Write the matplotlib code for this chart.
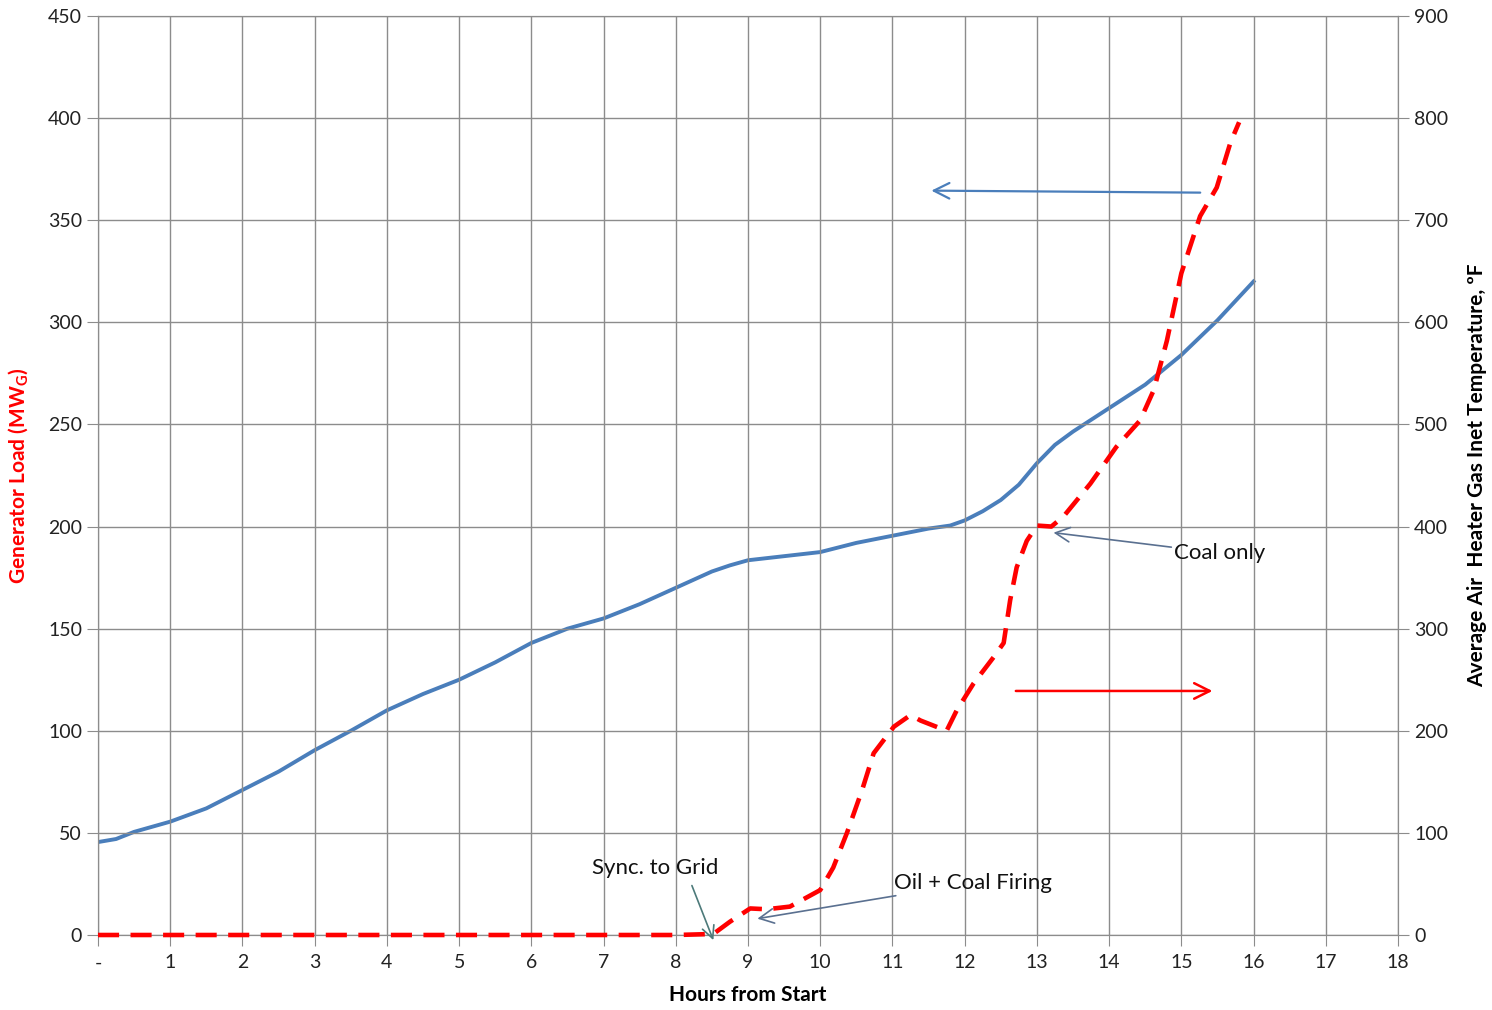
import matplotlib
matplotlib.use("Agg")
import matplotlib.pyplot as plt
import numpy as np

plt.rcParams['font.family'] = ['Lato', 'DejaVu Sans']

# Average air heater gas inlet temperature (deg F, right axis)
temp_hours = [0, 0.25, 0.5, 1, 1.5, 2, 2.5, 3, 3.5, 4, 4.5, 5, 5.5, 6, 6.5, 7, 7.5,
              8, 8.5, 8.75, 9, 9.5, 10, 10.5, 11, 11.5, 11.8, 12, 12.25, 12.5, 12.75,
              13, 13.25, 13.5, 14, 14.5, 15, 15.5, 16]
temp_f = [91, 94, 101, 111, 124, 142, 160, 181, 200, 220, 236, 250, 267, 286, 300, 310,
          324, 340, 356, 362, 367, 371, 375, 384, 391, 398, 401, 406, 415, 426, 441,
          462, 480, 493, 516, 539, 568, 602, 640]

# Generator load (MW, left axis)
load_hours = [0, 1, 2, 3, 4, 5, 6, 7, 8, 8.52, 8.75, 9.03, 9.26, 9.58, 10.0, 10.18,
              10.37, 10.58, 10.74, 11.02, 11.25, 11.39, 11.75, 11.89, 12.12, 12.4,
              12.54, 12.63, 12.72, 12.86, 13.0, 13.2, 13.37, 13.74, 14.1, 14.43,
              14.62, 14.8, 15.0, 15.26, 15.49, 15.68, 15.8]
load_mw = [0, 0, 0, 0, 0, 0, 0, 0, 0, 0.5, 6.5, 13, 12.6, 13.9, 22, 33,
           50, 71, 89, 102, 107.7, 105, 100, 110, 123, 136,
           143, 164, 180, 193, 200.5, 200, 205, 221, 239, 252,
           267, 291, 324, 352, 366, 388, 398]

x_ticks = list(range(0, 19))
x_labels = ['-'] + [str(i) for i in range(1, 19)]

grid_c = '#8c8c8c'
blue = '#4a7ebb'
red = '#ff0000'

fig = plt.figure(figsize=(14.92, 10.10), dpi=100)
ax = fig.add_axes([98 / 1492, 75 / 1010, 1300 / 1492, 919 / 1010])
ax2 = ax.twinx()

# Blue temperature line on the right axis
ax2.plot(temp_hours, temp_f, color=blue, lw=2.8, zorder=3,
         solid_joinstyle='round')
ax2.set_ylim(0, 900)
ax2.set_yticks(np.arange(0, 901, 100))

# Red dashed load line on the left axis, drawn above the twin axes
ax.set_zorder(ax2.get_zorder() + 1)
ax.patch.set_visible(False)
ax.plot(load_hours, load_mw, color=red, lw=3.3, dashes=(4.6, 2.5), zorder=4,
        clip_on=False)
ax.set_xlim(0, 18)
ax.set_ylim(0, 450)
ax.set_yticks(np.arange(0, 451, 50))
ax.set_xticks(x_ticks)
ax.set_xticklabels(x_labels)
ax.grid(True, color=grid_c, lw=1)
ax.set_axisbelow(True)

for a in (ax, ax2):
    for s in a.spines.values():
        s.set_color(grid_c)
    a.tick_params(colors=grid_c, labelcolor='#222222', labelsize=14, length=8)
ax.tick_params(axis='x', pad=6)

ax.set_xlabel('Hours from Start', fontsize=15, fontweight='bold', labelpad=10)
ax.set_ylabel('Generator Load (MW$_\\mathregular{G}$)', fontsize=15,
              fontweight='bold', color=red, labelpad=12)
ax2.set_ylabel('Average Air  Heater Gas Inet Temperature, ºF', fontsize=15,
               fontweight='bold', labelpad=14)

# Axis indicator arrows
ax.annotate('', xy=(11.5, 364.5), xytext=(15.3, 363.5),
            arrowprops=dict(arrowstyle='->', color=blue, lw=1.6,
                            mutation_scale=28), zorder=5)
ax.annotate('', xy=(15.47, 119.5), xytext=(12.67, 119.5),
            arrowprops=dict(arrowstyle='->', color=red, lw=1.8,
                            mutation_scale=28), zorder=5)

# Text annotations
note_c = '#5a7090'
ax.annotate('Coal only', xy=(13.23, 197), xytext=(14.9, 187), fontsize=16,
            va='center', ha='left', color='#111111',
            arrowprops=dict(arrowstyle='->', color=note_c, lw=1.2,
                            mutation_scale=26, shrinkA=0, shrinkB=0), zorder=6)
ax.annotate('Oil + Coal Firing', xy=(9.13, 8), xytext=(11.02, 25.5), fontsize=16,
            va='center', ha='left', color='#111111',
            arrowprops=dict(arrowstyle='->', color=note_c, lw=1.2,
                            mutation_scale=26, shrinkA=0, shrinkB=0), zorder=6)
ax.annotate('Sync. to Grid', xy=(8.52, -2.5), xytext=(7.71, 33), fontsize=16,
            va='center', ha='center', color='#111111', annotation_clip=False,
            arrowprops=dict(arrowstyle='->', color='#4d7a7a', lw=1.2,
                            mutation_scale=22, shrinkA=4, shrinkB=0,
                            relpos=(0.75, 0.3)), zorder=6)

fig.savefig('out.png', dpi=100)
